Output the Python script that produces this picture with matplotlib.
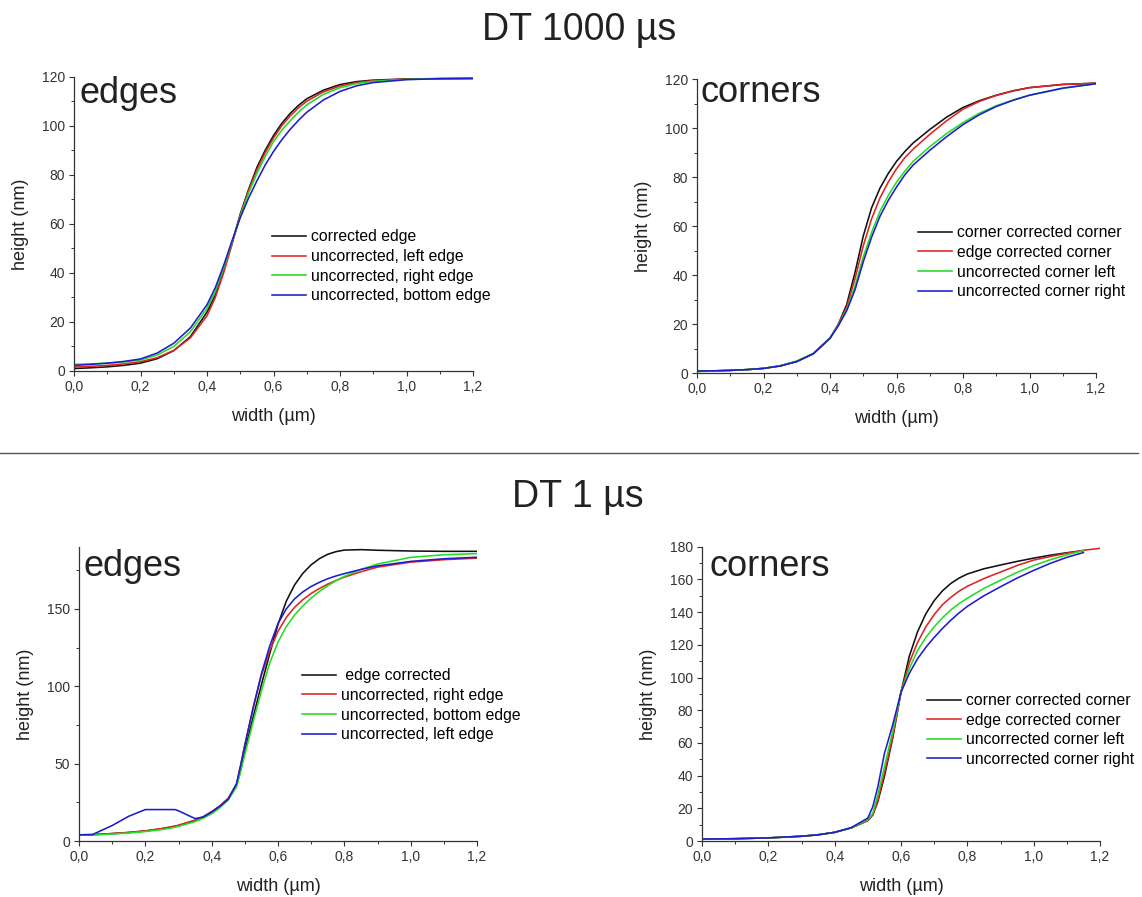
import numpy as np
import matplotlib
matplotlib.use("Agg")
import matplotlib.pyplot as plt
from matplotlib.lines import Line2D
from matplotlib.ticker import MultipleLocator

plt.rcParams["font.family"] = ["Liberation Sans", "DejaVu Sans"]

nan = np.nan

# ---------------- DT 1000 us : edges ----------------
x_e1000 = [0, 0.05, 0.1, 0.15, 0.2, 0.25, 0.3, 0.35, 0.4, 0.425, 0.45, 0.475, 0.5,
           0.525, 0.55, 0.575, 0.6, 0.625, 0.65, 0.675, 0.7, 0.75, 0.8, 0.85, 0.9, 1.0, 1.1, 1.2]
e1000_corrected = [1.0, 1.3, 1.7, 2.3, 3.2, 5.0, 8.3, 14.0, 24.0, 31.0, 41.0, 52.0, 64.0,
                   74.0, 83.0, 90.0, 96.0, 101.0, 105.0, 108.3, 111.0, 114.5, 116.8, 118.0, 118.6, 119.1, 119.2, 119.3]
e1000_left = [1.6, 1.9, 2.3, 2.9, 3.8, 5.4, 8.4, 13.5, 22.5, 30.0, 40.0, 51.5, 63.5,
              73.5, 82.0, 89.0, 95.0, 100.0, 104.0, 107.3, 110.0, 113.8, 116.2, 117.6, 118.4, 119.0, 119.2, 119.3]
e1000_right = [2.7, 2.9, 3.2, 3.7, 4.5, 6.5, 10.0, 16.0, 25.5, 32.5, 42.0, 52.5, 63.0,
               72.5, 80.5, 87.5, 93.5, 98.2, 102.0, 105.5, 108.5, 112.8, 115.5, 117.2, 118.1, 118.9, 119.2, 119.3]
e1000_bottom = [2.3, 2.7, 3.2, 3.9, 4.9, 7.3, 11.3, 17.5, 27.0, 34.0, 43.0, 53.0, 62.5,
                70.5, 77.5, 84.0, 89.5, 94.3, 98.5, 102.2, 105.5, 110.5, 114.0, 116.3, 117.6, 118.8, 119.2, 119.3]
labels_e1000 = ["corrected edge", "uncorrected, left edge",
                "uncorrected, right edge", "uncorrected, bottom edge"]

# ---------------- DT 1000 us : corners ----------------
x_c1000 = [0, 0.05, 0.1, 0.15, 0.2, 0.25, 0.3, 0.35, 0.4, 0.425, 0.45, 0.475, 0.5, 0.525,
           0.55, 0.575, 0.6, 0.625, 0.65, 0.7, 0.75, 0.8, 0.85, 0.9, 0.95, 1.0, 1.1, 1.2]
c1000_corner_corr = [0.9, 1.0, 1.2, 1.5, 2.0, 3.0, 4.8, 8.0, 14.3, 20.0, 28.0, 41.0, 56.0, 67.5,
                     75.5, 81.5, 86.5, 90.5, 94.0, 99.5, 104.5, 108.5, 111.3, 113.5, 115.3, 116.6, 117.9, 118.4]
c1000_edge_corr = [0.9, 1.0, 1.2, 1.5, 2.0, 3.0, 4.8, 8.0, 14.3, 19.8, 27.0, 38.5, 52.0, 63.0,
                   71.5, 78.0, 83.5, 88.0, 91.5, 97.5, 103.0, 107.8, 111.0, 113.4, 115.2, 116.6, 117.9, 118.4]
c1000_unc_left = [0.7, 0.9, 1.2, 1.5, 2.0, 3.1, 5.0, 8.2, 14.5, 19.6, 26.0, 35.5, 47.5, 57.5,
                  66.0, 72.5, 78.0, 82.5, 86.5, 92.5, 97.8, 102.3, 106.2, 109.2, 111.5, 113.5, 116.3, 118.2]
c1000_unc_right = [0.9, 1.0, 1.2, 1.5, 2.0, 3.0, 4.8, 8.0, 14.3, 19.4, 25.5, 34.0, 45.5, 55.5,
                   64.0, 70.5, 76.0, 81.0, 85.0, 91.0, 96.5, 101.5, 105.6, 108.9, 111.4, 113.5, 116.4, 118.2]
labels_c1000 = ["corner corrected corner", "edge corrected corner",
                "uncorrected corner left", "uncorrected corner right"]

# ---------------- DT 1 us : edges ----------------
x_e1 = [0, 0.04, 0.1, 0.15, 0.2, 0.25, 0.29, 0.3, 0.35, 0.375, 0.4, 0.425, 0.45, 0.475,
        0.4875, 0.5, 0.525, 0.55, 0.575, 0.6, 0.625, 0.65, 0.675, 0.7, 0.725, 0.75, 0.775,
        0.8, 0.85, 0.9, 1.0, 1.1, 1.2]
e1_corrected = [4.0, 4.1, 4.8, 5.5, 6.5, 8.0, 9.6, 10.0, 13.3, 15.5, 18.5, 22.5, 27.5, 36.0,
                46.0, 58.0, 80.0, 101.0, 121.0, 140.0, 155.0, 165.5, 173.0, 178.5, 182.5, 185.3, 187.0,
                188.0, 188.3, 187.9, 187.4, 187.2, 187.2]
e1_right = [4.0, 4.1, 4.8, 5.5, 6.5, 8.0, 9.6, 10.2, 13.5, 15.8, 19.0, 22.8, 27.5, 37.0,
            49.0, 62.0, 86.0, 107.0, 123.0, 135.5, 144.5, 151.0, 156.0, 160.0, 163.2, 166.0, 168.4,
            170.5, 174.0, 177.0, 180.2, 181.8, 182.8]
e1_bottom = [3.7, 3.9, 4.5, 5.2, 6.1, 7.4, 8.9, 9.5, 12.5, 14.8, 17.6, 21.5, 26.5, 35.0,
             45.0, 56.0, 77.0, 97.0, 115.0, 128.5, 138.5, 146.0, 152.0, 157.0, 161.3, 165.0, 168.2,
             171.0, 175.5, 179.0, 183.3, 185.0, 185.7]
e1_left = [4.0, 4.1, 10.0, 16.0, 20.3, 20.3, 20.3, 19.5, 14.5, 15.5, 18.8, 22.5, 27.0, 37.0,
           49.0, 62.0, 86.0, 108.0, 126.0, 140.5, 150.0, 156.5, 161.0, 164.5, 167.2, 169.5, 171.3,
           172.8, 175.5, 177.8, 180.7, 182.4, 183.4]
labels_e1 = [" edge corrected", "uncorrected, right edge",
             "uncorrected, bottom edge", "uncorrected, left edge"]

# ---------------- DT 1 us : corners ----------------
x_c1 = [0, 0.1, 0.2, 0.3, 0.35, 0.4, 0.45, 0.5, 0.515, 0.53, 0.55, 0.575, 0.6, 0.625,
        0.65, 0.675, 0.7, 0.725, 0.75, 0.775, 0.8, 0.85, 0.9, 0.95, 1.0, 1.05, 1.1, 1.15, 1.2]
c1_corner_corr = [1.2, 1.4, 1.9, 2.9, 3.8, 5.3, 8.0, 12.5, 16.0, 24.0, 39.5, 63.0, 91.0, 113.0,
                  128.0, 139.0, 147.0, 153.0, 157.5, 160.8, 163.3, 166.5, 168.8, 171.0, 173.0, 174.8,
                  176.3, 177.6, nan]
c1_edge_corr = [1.2, 1.4, 1.9, 2.9, 3.8, 5.3, 8.0, 12.5, 16.0, 25.0, 41.5, 64.0, 91.0, 109.0,
                121.5, 131.0, 138.5, 144.5, 149.0, 152.8, 155.8, 160.5, 164.5, 168.5, 171.8, 174.0,
                176.0, 177.8, 179.0]
c1_unc_left = [1.2, 1.4, 1.9, 2.9, 3.8, 5.3, 8.0, 13.0, 17.0, 28.0, 45.5, 67.0, 91.0, 105.5,
               116.5, 124.5, 131.0, 136.5, 141.3, 145.2, 148.5, 154.5, 159.5, 164.3, 168.5, 172.0,
               175.0, 177.6, nan]
c1_unc_right = [1.2, 1.4, 1.9, 2.9, 3.8, 5.3, 8.2, 14.0, 21.0, 33.0, 53.5, 71.0, 91.0, 102.5,
                111.5, 118.5, 124.5, 130.0, 135.0, 139.5, 143.5, 150.0, 155.5, 160.8, 165.5, 169.8,
                173.5, 176.4, nan]
labels_c1 = ["corner corrected corner", "edge corrected corner",
             "uncorrected corner left", "uncorrected corner right"]

x_ticks = [0.0, 0.2, 0.4, 0.6, 0.8, 1.0, 1.2]
x_tick_labels = ["0,0", "0,2", "0,4", "0,6", "0,8", "1,0", "1,2"]

COLORS = ["#111111", "#e02424", "#22dd22", "#1c1cd0"]
W, H = 1142, 897
fig = plt.figure(figsize=(W / 100, H / 100), dpi=100)


def px_rect(left, top, right, bottom):
    return [left / W, 1 - bottom / H, (right - left) / W, (bottom - top) / H]


def panel(rect, x, series, labels, ymax, ymajor, yminor, name, name_pos, leg_pos):
    ax = fig.add_axes(rect)
    for y, lab, col in zip(series, labels, COLORS):
        ax.plot(x, y, color=col, lw=1.15, label=lab)
    ax.set_xlim(0, 1.2)
    ax.set_ylim(0, ymax)
    ax.set_xticks(x_ticks)
    ax.set_xticklabels(x_tick_labels)
    ax.xaxis.set_minor_locator(MultipleLocator(0.1))
    ax.yaxis.set_major_locator(MultipleLocator(ymajor))
    ax.yaxis.set_minor_locator(MultipleLocator(yminor))
    for s in ("top", "right"):
        ax.spines[s].set_visible(False)
    for s in ("left", "bottom"):
        ax.spines[s].set_color("#333333")
        ax.spines[s].set_linewidth(0.9)
    ax.tick_params(which="major", length=3.5, width=0.8, color="#333333",
                   labelsize=10, labelcolor="#333333", pad=3)
    ax.tick_params(which="minor", length=2.2, width=0.7, color="#333333")
    ax.set_xlabel("width (µm)", fontsize=13, color="#222222", labelpad=10)
    ax.set_ylabel("height (nm)", fontsize=13, color="#222222", labelpad=9)
    ax.text(name_pos[0], name_pos[1], name, transform=ax.transAxes,
            fontsize=26, color="#222222", ha="left", va="baseline")
    ax.legend(loc="upper left", bbox_to_anchor=leg_pos, frameon=False,
              fontsize=11.3, handlelength=2.2, handletextpad=0.3,
              labelspacing=0.29, borderpad=0, borderaxespad=0)
    return ax


panel(px_rect(74, 76.7, 473, 371), x_e1000,
      [e1000_corrected, e1000_left, e1000_right, e1000_bottom], labels_e1000,
      120, 20, 10, "edges", (0.015, 0.912), (0.496, 0.481))
panel(px_rect(697, 79.3, 1096, 373.3), x_c1000,
      [c1000_corner_corr, c1000_edge_corr, c1000_unc_left, c1000_unc_right], labels_c1000,
      120, 20, 10, "corners", (0.010, 0.923), (0.553, 0.503))
panel(px_rect(79, 547, 477, 841), x_e1,
      [e1_corrected, e1_right, e1_bottom, e1_left], labels_e1,
      190, 50, 25, "edges", (0.012, 0.902), (0.560, 0.587))
panel(px_rect(702, 546.7, 1100, 841), x_c1,
      [c1_corner_corr, c1_edge_corr, c1_unc_left, c1_unc_right], labels_c1,
      180, 20, 10, "corners", (0.020, 0.902), (0.565, 0.502))

# section headings and divider
fig.text(579 / W, 1 - 40 / H, "DT 1000 µs", fontsize=27, color="#222222",
         ha="center", va="baseline")
fig.text(578 / W, 1 - 507 / H, "DT 1 µs", fontsize=27, color="#222222",
         ha="center", va="baseline")
fig.add_artist(Line2D([0.0, 1138 / W], [1 - 453 / H, 1 - 453 / H],
                      color="#555555", lw=1.0))

fig.savefig("out.png", dpi=100)
